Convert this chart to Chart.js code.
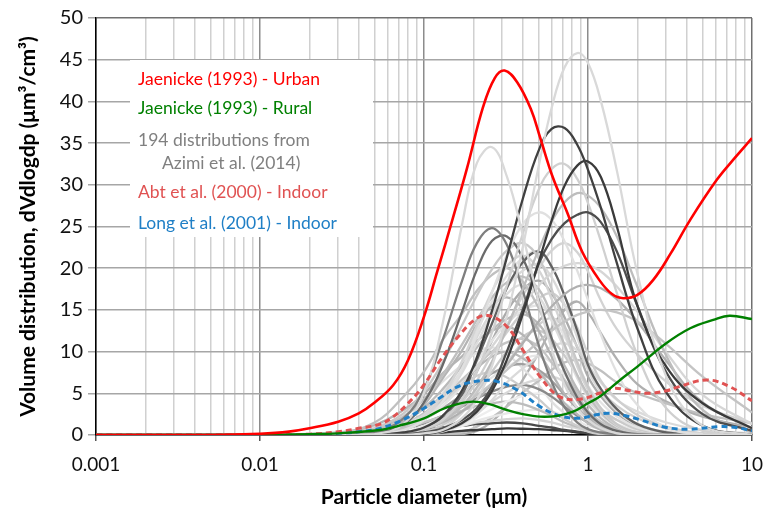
<!DOCTYPE html>
<html>
<head>
<meta charset="utf-8">
<script src="https://cdn.jsdelivr.net/npm/chart.js@4.4.1/dist/chart.umd.min.js"></script>
<style>
  html, body { margin: 0; padding: 0; background: #fff; }
  #wrap { width: 764px; height: 510px; }
</style>
</head>
<body>
<div id="wrap"><canvas id="sizeChart"></canvas></div>
<script>
// Jaenicke (1993) urban / rural, Abt et al. (2000), Long et al. (2001)
const urbanD = [0.001, 0.005, 0.01, 0.015, 0.02, 0.03, 0.04, 0.05, 0.065, 0.08, 0.1, 0.12, 0.15, 0.183, 0.229, 0.27, 0.31, 0.37, 0.45, 0.51, 0.61, 0.75, 0.92, 1.17, 1.4, 1.64, 2, 2.5, 3.2, 4.2, 6.1, 8, 10];
const urbanV = [0, 0, 0.15, 0.4, 0.8, 1.6, 2.6, 3.9, 6.0, 9.0, 14.2, 19.5, 26, 32, 39.3, 42.8, 43.7, 42.3, 39, 35.7, 30.9, 26.6, 22, 18.6, 16.9, 16.4, 16.8, 18.6, 21.8, 25.8, 30.6, 33.4, 35.6];

const ruralD = [0.001, 0.01, 0.02, 0.03, 0.054, 0.07, 0.1, 0.126, 0.16, 0.2, 0.25, 0.32, 0.4, 0.51, 0.65, 0.81, 1, 1.2, 1.57, 2, 3, 4.2, 5.8, 7.3, 10];
const ruralV = [0, 0, 0.1, 0.2, 0.6, 1.1, 2.0, 3.0, 3.7, 4.0, 3.7, 3.0, 2.5, 2.2, 2.3, 2.8, 3.8, 4.7, 6.6, 8.2, 11, 12.8, 13.8, 14.3, 13.9];

const abtD = [0.001, 0.01, 0.02, 0.03, 0.04, 0.054, 0.065, 0.08, 0.098, 0.126, 0.165, 0.21, 0.25, 0.32, 0.4, 0.51, 0.67, 0.89, 1.17, 1.43, 1.8, 2.3, 3, 3.6, 5.3, 7.3, 10];
const abtV = [0, 0, 0.1, 0.4, 0.8, 1.3, 2.2, 3.8, 5.8, 9, 12, 14, 14.3, 13, 10.2, 7, 4.6, 4.3, 5, 5.6, 5.3, 5, 5.3, 5.8, 6.6, 5.8, 4.1];

const longD = [0.001, 0.01, 0.02, 0.03, 0.04, 0.054, 0.074, 0.1, 0.126, 0.165, 0.22, 0.28, 0.37, 0.51, 0.67, 0.89, 1.1, 1.35, 1.7, 2.1, 3, 4.2, 6.3, 8, 10];
const longV = [0, 0, 0.05, 0.2, 0.4, 0.8, 1.8, 3.2, 4.5, 5.9, 6.5, 6.4, 5.4, 3.4, 2.3, 2.0, 2.4, 2.6, 2.3, 1.8, 0.9, 0.7, 1.0, 0.9, 0.5];

// Azimi et al. (2014): a sample of the 194 distributions, read on a common diameter grid
const azimiD = [0.001, 0.01, 0.03, 0.05, 0.075, 0.1, 0.13, 0.17, 0.21, 0.26, 0.32, 0.4, 0.5, 0.6, 0.72, 0.86, 1, 1.2, 1.5, 2, 3, 5, 10];
const azimiV = [
  [0,0,0,0,0,0.2,0.6,2,4.2,8.3,14.2,22.5,32.2,39.2,44.1,45.8,44.6,40,31.7,19.4,7,1.1,0],
  [0,0,0,0.1,1.3,5.1,13.4,25.1,32.6,34.5,31,24,16,10.3,6,3.2,1.8,0.8,0.2,0,0,0,0],
  [0,0,0,0,0.3,0.9,2.3,5.3,9.3,14.9,21.3,28.3,34.1,36.7,36.8,34.8,31.8,27.2,20.6,12.8,5.1,1.1,0],
  [0,0,0,0,0,0.1,0.5,1.4,2.8,5.3,9,14.5,20.7,25.7,29.9,32.3,32.8,30.9,25,15.5,8.2,3.8,0.8],
  [0,0,0,0,0.1,0.3,0.8,1.8,3.2,5.8,10,15,20.5,23.5,25.4,26.4,26.7,25.5,22,15.5,7.5,2.5,0.5],
  [0,0,0,0,0.2,0.7,1.8,4.3,7.6,12.3,17.9,24.1,29.4,31.9,32.5,30.7,27.8,23.2,17,9.6,3.2,0.5,0],
  [0,0,0,0,0.3,0.7,1.6,3.4,5.7,8.8,12.8,17.5,22.2,25.6,27.9,29,28.7,27.2,23.8,17.8,9.5,3,0.3],
  [0,0,0,0.1,0.6,1.8,4,7.9,12.1,17.1,21.6,25.3,26.7,25.8,23.2,19.7,16.2,12,7.5,3.6,0.9,0.1,0],
  [0,0,0,0.3,2,5.5,11.4,18.4,23,24.8,22.8,17.3,10.8,6.4,3.3,1.5,0.7,0.3,0.1,0,0,0,0],
  [0,0,0,0.2,1.3,3.9,8.4,14.7,19.8,23.3,23.8,21.2,16.2,11.6,7.6,4.5,2.7,1.3,0.5,0.1,0,0,0],
  [0,0,0.1,0.5,1.3,2.4,3.9,6.1,8.2,10.6,13.1,15.7,17.9,19.4,20.3,20.6,20.4,19.6,17.8,14.8,9.9,4.8,1.3],
  [0,0,0,0.3,0.8,1.5,2.3,3.5,4.8,6.2,7.8,9.5,11.2,12.5,13.6,14.4,14.8,15,14.7,13.6,10.9,7,2.7],
  [0,0,0,0,0.3,0.8,1.5,2.8,4.2,6.2,8.4,11,13.6,15.4,16.9,17.8,18,17.6,16.3,13.6,8.9,3.9,0.8],
  [0,0,0.1,0.8,2.6,5.2,8.7,13.1,16.7,19.9,22.1,23,21.2,17.5,13.1,8.7,5.8,3.2,1.3,0.3,0,0,0],
  [0,0,0,0,0.1,0.7,2.2,4.8,9,13.4,17.6,20.7,22,20.2,16.7,12.5,8.4,5.5,3.1,1.3,0.3,0,0],
  [0,0,0,0.1,0.7,2.1,4.7,8.8,13.1,17.2,20.2,21.5,19.8,16.3,12.3,8.2,5.4,3,1.2,0.3,0,0,0],
  [0,0,0,0.1,0.7,2.4,4.7,7.8,11.7,14.9,17.8,19.7,20.5,18.9,15.6,11.7,7.8,5.1,2.9,1.2,0.3,0,0],
  [0,0,0.3,1.5,4.6,7.6,11.4,14.5,17.3,19.2,20,18.4,15.2,11.4,7.6,5,2.8,1.1,0.3,0,0,0,0],
  [0,0,0.1,0.7,2.2,4.3,7.2,10.8,13.8,16.5,18.3,19,17.5,14.4,10.8,7.2,4.8,2.7,1.1,0.3,0,0,0],
  [0,0,0,0.1,0.6,1.8,4,7.4,11,14.4,16.9,18,16.6,13.7,10.3,6.8,4.5,2.5,1,0.3,0,0,0],
  [0,0,0,0,0.1,0.6,2,3.9,6.5,9.7,12.3,14.7,16.4,17,15.6,12.9,9.7,6.5,4.3,2.4,1,0.2,0],
  [0,0,0.1,0.6,1.6,3.6,6.8,10.1,13.2,15.5,16.5,15.2,12.5,9.4,6.3,4.1,2.3,0.9,0.2,0,0,0,0],
  [0,0,0,0.1,0.6,1.8,3.5,5.9,8.8,11.3,13.4,14.9,15.5,14.3,11.8,8.8,5.9,3.9,2.2,0.9,0.2,0,0],
  [0,0,0.1,0.5,1.7,3.3,5.5,8.3,10.5,12.6,13.9,14.5,13.3,11,8.3,5.5,3.6,2,0.8,0.2,0,0,0],
  [0,0,0,0,0,0.1,0.5,1.4,3.1,5.7,8.5,11.2,13.2,14,12.9,10.6,8,5.3,3.5,2,0.8,0.2,0],
  [0,0,0.2,1.2,3,4.9,7.4,9.4,11.3,12.5,13,12,9.9,7.4,4.9,3.3,1.8,0.7,0.2,0,0,0,0],
  [0,0,0,0,0.1,0.4,1.2,2.8,5.1,7.6,10,11.8,12.5,11.5,9.5,7.1,4.8,3.1,1.8,0.7,0.2,0,0],
  [0,0,0.1,0.4,1.3,2.6,4.4,6.6,8.3,10,11.1,11.5,10.6,8.7,6.6,4.4,2.9,1.6,0.7,0.2,0,0,0],
  [0,0,0,0,0,0.1,0.4,1.3,2.5,4.2,6.3,8,9.5,10.6,11,10.1,8.4,6.3,4.2,2.8,1.5,0.6,0.2],
  [0,0,0.1,0.3,1,2.2,4.1,6.1,8,9.4,10,9.2,7.6,5.7,3.8,2.5,1.4,0.6,0.1,0,0,0,0],
  [0,0,0,0.1,0.3,1.1,2.2,3.6,5.4,6.9,8.2,9.1,9.5,8.7,7.2,5.4,3.6,2.4,1.3,0.5,0.1,0,0],
  [0,0,0.1,0.3,1,1.9,3.2,4.8,6.2,7.4,8.2,8.5,7.8,6.5,4.8,3.2,2.1,1.2,0.5,0.1,0,0,0],
  [0,0,0.2,0.7,1.7,3.1,4.6,6,7.1,7.5,6.9,5.7,4.3,2.9,1.9,1.1,0.4,0.1,0,0,0,0,0],
  [0,0,0,0,0.1,0.3,0.8,1.6,2.7,4,5.1,6.1,6.7,7,6.4,5.3,4,2.7,1.8,1,0.4,0.1,0],
  [0,0,0,0.2,0.7,1.4,2.3,3.4,4.4,5.2,5.8,6,5.5,4.6,3.4,2.3,1.5,0.8,0.3,0.1,0,0,0],
  [0,0,0,0,0,0.2,0.5,1.1,2.1,3.1,4,4.7,5,4.6,3.8,2.9,1.9,1.3,0.7,0.3,0.1,0,0],
  [0,0,0.1,0.4,0.9,1.5,2.3,2.9,3.5,3.8,4,3.7,3,2.3,1.5,1,0.6,0.2,0.1,0,0,0,0],
  [0,0,0,0,0.1,0.3,0.7,1.1,1.7,2.2,2.6,2.9,3,2.8,2.3,1.7,1.1,0.8,0.4,0.2,0,0,0],
  [0,0,0,0.1,0.2,0.5,0.8,1.1,1.5,1.7,1.9,2,1.8,1.5,1.1,0.8,0.5,0.3,0.1,0,0,0,0],
  [0,0,0,0.2,0.3,0.6,0.9,1.1,1.3,1.4,1.5,1.4,1.1,0.9,0.6,0.4,0.2,0.1,0,0,0,0,0],
  [0,0,0,0,0.1,0.2,0.3,0.5,0.6,0.7,0.8,0.75,0.7,0.6,0.5,0.3,0.2,0.1,0,0,0,0,0],
  [0,0,0,0,0,0,0.1,0.3,1,2.1,3.4,5.1,6.5,7.8,8.7,9,8.6,7.7,6.3,5,3.8,2.5,1.4],
  [0,0,0.3,1,2.3,4.3,6.4,8.4,9.9,10.5,9.7,8,6,4,2.6,1.5,0.6,0.1,0,0,0,0,0],
  [0,0,0,0,0.1,0.6,1.8,4.1,7.6,11.3,14.8,17.4,18.5,17,14.1,10.5,7,4.6,2.6,1.1,0.3,0,0],
  [0,0,0,0.1,0.8,2.5,5,8.4,12.5,16,19.1,21.2,22,20.2,16.7,12.5,8.4,5.5,3.1,1.3,0.3,0,0],
  [0,0,0,0,0,0.1,0.8,2.6,5.2,8.7,13.1,16.7,19.9,22.1,23,21.9,19.6,16.1,12.7,9.7,6.4,3.5,1.4],
  [0,0,0,0,0,0,0,0.1,0.5,1.6,3.5,6.6,9.8,12.8,15,16,14.7,12.2,9.1,6.1,4,2.2,0.9]
];
const azimiColors = [
  '#d9d9d9', '#d9d9d9', '#404040', '#3a3a3a', '#4d4d4d', '#d0d0d0', '#bdbdbd', '#e0e0e0',
  '#7f7f7f', '#6a6a6a', '#d6d6d6', '#c4c4c4', '#b0b0b0', '#c8c8c8', '#606060', '#d4d4d4',
  '#d9d9d9', '#c0c0c0', '#bfbfbf', '#dcdcdc', '#cfcfcf', '#b4b4b4', '#e3e3e3', '#bababa',
  '#d0d0d0', '#b5b5b5', '#cacaca', '#c4c4c4', '#dadada', '#b8b8b8', '#e6e6e6', '#a0a0a0',
  '#cccccc', '#d8d8d8', '#8a8a8a', '#eeeeee', '#bdbdbd', '#e8e8e8', '#d4d4d4', '#4a4a4a',
  '#3a3a3a', '#c0c0c0', '#e0e0e0', '#ababab', '#e0e0e0', '#d3d3d3', '#b0b0b0'
];

const xLabels = ['0.001', '0.01', '0.1', '1', '10'];
const legendItems = [
  { text: 'Jaenicke (1993) - Urban', color: '#ff0000', x: 138, y: 79 },
  { text: 'Jaenicke (1993) - Rural', color: '#008000', x: 138, y: 108 },
  { text: '194 distributions from', color: '#808080', x: 138, y: 140 },
  { text: 'Azimi et al. (2014)', color: '#808080', x: 162, y: 163 },
  { text: 'Abt et al. (2000) - Indoor', color: '#e05252', x: 138, y: 192 },
  { text: 'Long et al. (2001) - Indoor', color: '#1f7fc6', x: 138, y: 223 }
];

const FONT = 'Lato, "Liberation Sans", sans-serif';

function pairs(ds, vs) {
  return ds.map((d, i) => ({ x: d, y: vs[i] }));
}

function isDecade(v) {
  const l = Math.log10(v);
  return Math.abs(l - Math.round(l)) < 1e-9;
}

const datasets = [
  { label: 'Jaenicke (1993) - Urban', data: pairs(urbanD, urbanV), borderColor: '#ff0000', borderWidth: 2.6 },
  { label: 'Jaenicke (1993) - Rural', data: pairs(ruralD, ruralV), borderColor: '#008000', borderWidth: 2.4 },
  { label: 'Abt et al. (2000) - Indoor', data: pairs(abtD, abtV), borderColor: '#e05252', borderWidth: 3, borderDash: [6, 4] },
  { label: 'Long et al. (2001) - Indoor', data: pairs(longD, longV), borderColor: '#1f7fc6', borderWidth: 3, borderDash: [6, 4] }
];
azimiV.forEach((row, i) => {
  datasets.push({
    label: 'Azimi ' + (i + 1),
    data: pairs(azimiD, row),
    borderColor: azimiColors[i],
    borderWidth: 2.3
  });
});

const legendBox = {
  id: 'legendBox',
  beforeDatasetsDraw(chart) {
    const ctx = chart.ctx;
    ctx.save();
    ctx.fillStyle = '#ffffff';
    ctx.fillRect(130, 60, 243, 177);
    ctx.font = '17.5px ' + FONT;
    ctx.textBaseline = 'middle';
    ctx.textAlign = 'left';
    legendItems.forEach(it => {
      ctx.fillStyle = it.color;
      ctx.fillText(it.text, it.x, it.y);
    });
    ctx.restore();
  }
};

new Chart(document.getElementById('sizeChart').getContext('2d'), {
  type: 'line',
  data: { datasets: datasets },
  plugins: [legendBox],
  options: {
    responsive: true,
    maintainAspectRatio: false,
    animation: false,
    devicePixelRatio: 1,
    layout: { padding: { top: 18, right: 12, left: 0, bottom: 0 } },
    elements: {
      point: { radius: 0, hoverRadius: 0 },
      line: { tension: 0.4, fill: false, capBezierPoints: true }
    },
    plugins: {
      legend: { display: false },
      tooltip: { enabled: false }
    },
    scales: {
      x: {
        type: 'logarithmic',
        min: 0.001,
        max: 10,
        afterBuildTicks(scale) {
          const t = [];
          for (let e = -3; e <= 0; e++) {
            for (let m = 1; m <= 9; m++) t.push({ value: +(m * Math.pow(10, e)).toPrecision(3) });
          }
          t.push({ value: 10 });
          scale.ticks = t;
        },
        afterFit(scale) {
          scale.height = 75;
          scale.paddingLeft = 0;
          scale.paddingRight = 0;
        },
        border: { display: true, color: '#000000', width: 1.5 },
        grid: {
          color: ctx => {
            const v = ctx.tick ? ctx.tick.value : 1;
            if (v === 10) return '#707070';
            return isDecade(v) ? '#8c8c8c' : '#d0d0d0';
          },
          lineWidth: 1.5,
          tickLength: 6,
          tickColor: ctx => (ctx.tick && isDecade(ctx.tick.value)) ? '#555555' : 'rgba(0,0,0,0)'
        },
        ticks: {
          autoSkip: false,
          maxRotation: 0,
          padding: 12,
          color: '#111111',
          font: { family: FONT, size: 19 },
          callback: function (value) {
            if (!isDecade(value)) return '';
            return xLabels[Math.round(Math.log10(value)) + 3];
          }
        },
        title: {
          display: true,
          text: 'Particle diameter (μm)',
          color: '#000000',
          font: { family: FONT, size: 21, weight: 'bold' },
          padding: { top: 2, bottom: 0 }
        }
      },
      y: {
        min: 0,
        max: 50,
        afterFit(scale) { scale.width = 96; },
        border: { display: true, color: '#000000', width: 1.5 },
        grid: {
          color: ctx => (ctx.tick && ctx.tick.value === 50) ? '#707070' : '#a6a6a6',
          lineWidth: 1.5,
          tickLength: 8,
          tickColor: '#a6a6a6'
        },
        ticks: {
          stepSize: 5,
          padding: 5,
          color: '#111111',
          font: { family: FONT, size: 20 }
        },
        title: {
          display: true,
          text: 'Volume distribution, dVdlogdp (μm³/cm³)',
          color: '#000000',
          font: { family: FONT, size: 21, weight: 'bold' },
          padding: { top: 16, bottom: 0 }
        }
      }
    }
  }
});
</script>
</body>
</html>
